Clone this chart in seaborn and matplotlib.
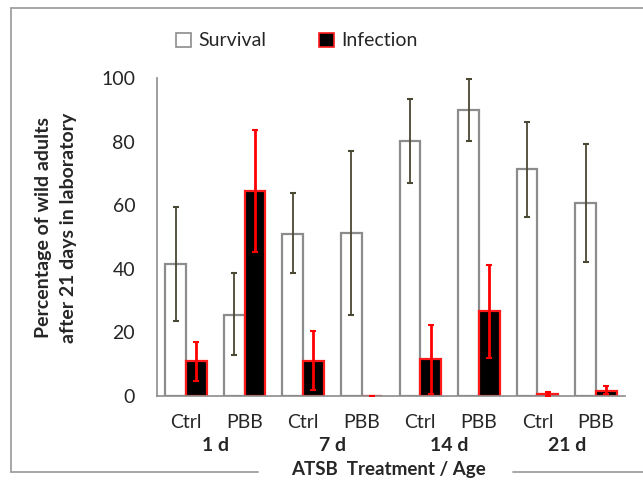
import numpy as np
import pandas as pd
import matplotlib.pyplot as plt
import seaborn as sns
from matplotlib.patches import Patch
from matplotlib.lines import Line2D
from matplotlib.ticker import MultipleLocator

# data
treatments = ['Ctrl', 'PBB', 'Ctrl', 'PBB', 'Ctrl', 'PBB', 'Ctrl', 'PBB']
ages = ['1 d', '7 d', '14 d', '21 d']
survival = [41.6, 25.6, 51.0, 51.3, 80.3, 90.1, 71.3, 60.6]
survival_lo = [23.6, 12.8, 38.8, 25.6, 67.2, 80.3, 56.2, 42.2]
survival_hi = [59.5, 38.6, 63.8, 77.2, 93.6, 99.9, 86.1, 79.2]
infection = [10.9, 64.5, 11.1, 0.0, 11.6, 26.7, 0.6, 1.7]
infection_lo = [4.6, 45.4, 1.8, 0.0, 0.7, 12.0, 0.0, 0.5]
infection_hi = [17.0, 83.8, 20.5, 0.0, 22.5, 41.3, 1.3, 3.0]

sns.set_style('white')
plt.rcParams['font.family'] = ['Lato', 'DejaVu Sans']

slots = [f'{a}|{t}' for a in ages for t in ('Ctrl', 'PBB')]
df = pd.DataFrame({
    'slot': slots * 2,
    'measure': ['Survival'] * 8 + ['Infection'] * 8,
    'value': survival + infection,
})

fig = plt.figure(figsize=(6.43, 4.84), dpi=100)
ax = fig.add_axes([0.2437, 0.1818, 0.7288, 0.6564])

sns.barplot(data=df, x='slot', y='value', hue='measure', order=slots,
            hue_order=['Survival', 'Infection'],
            palette={'Survival': 'white', 'Infection': 'black'},
            width=0.707, errorbar=None, legend=False, ax=ax)

edge = {0: '#8c8c8c', 1: '#ff1a1a'}
err_col = {0: '#4a4733', 1: '#ff0000'}
vals = [(survival, survival_lo, survival_hi), (infection, infection_lo, infection_hi)]
bar_groups = list(ax.containers)
for i, cont in enumerate(bar_groups):
    xs = []
    for bar in cont:
        bar.set_edgecolor(edge[i])
        bar.set_linewidth(1.6)
        xs.append(bar.get_x() + bar.get_width() / 2)
    v, lo, hi = (np.array(a) for a in vals[i])
    ax.errorbar(xs, v, yerr=[v - lo, hi - v], fmt='none', ecolor=err_col[i],
                elinewidth=1.3 if i == 0 else 2.0, capsize=2.5, capthick=1.5, zorder=5)

ax.set_xlim(-0.5, 7.5)
ax.set_ylim(0, 100)
ax.yaxis.set_major_locator(MultipleLocator(20))
ax.yaxis.set_minor_locator(MultipleLocator(10))
ax.set_xticks(range(8))
ax.set_xticklabels(treatments, fontsize=14)
ax.set_xticks(np.arange(-0.5, 8, 1), minor=True)
ax.tick_params(axis='x', which='major', length=0, pad=13)
ax.tick_params(axis='x', which='minor', length=8, width=1, color='#8c8c8c', direction='out')
ax.tick_params(axis='y', which='major', length=9, width=1, color='#8c8c8c',
               direction='inout', labelsize=14, pad=11)
ax.tick_params(axis='y', which='minor', length=4, width=1, color='#8c8c8c', direction='in')
for s in ['top', 'right']:
    ax.spines[s].set_visible(False)
for s in ['left', 'bottom']:
    ax.spines[s].set_color('#8c8c8c')
    ax.spines[s].set_linewidth(1.2)
ax.set_xlabel('')
ax.set_ylabel('Percentage of wild adults\nafter 21 days in laboratory',
              fontsize=14, fontweight='bold', linespacing=1.55)
ax.yaxis.set_label_coords(-0.17, 0.53)

# age group labels under the pairs
trans = ax.get_xaxis_transform()
for k, age in enumerate(ages):
    ax.text(2 * k + 0.5, -0.155, age, transform=trans, ha='center', va='center',
            fontsize=14, fontweight='bold')

fig.text(388 / 643, 1 - 470 / 484, 'ATSB  Treatment / Age', ha='center', va='center',
         fontsize=13.5, fontweight='bold')

handles = [Patch(facecolor='white', edgecolor='#8c8c8c', linewidth=1.2, label='Survival'),
           Patch(facecolor='black', edgecolor='#ff1a1a', linewidth=1.2, label='Infection')]
fig.legend(handles=handles, loc='center', bbox_to_anchor=(297 / 643, 1 - 41 / 484), ncol=2,
           frameon=False, fontsize=14, handlelength=0.75, handleheight=0.75,
           handletextpad=0.4, columnspacing=2.7)

# chart frame (bottom broken by the axis title)
W, H = 643, 484
frame = [((11, 643), (7.5, 7.5)), ((11, 11), (7.5, 472)),
         ((11, 258), (472, 472)), ((513, 643), (472, 472))]
for xx, yy in frame:
    fig.add_artist(Line2D([x / W for x in xx], [1 - y / H for y in yy],
                          color='#a0a0a0', linewidth=1.3))

fig.savefig('out.png', dpi=100)
